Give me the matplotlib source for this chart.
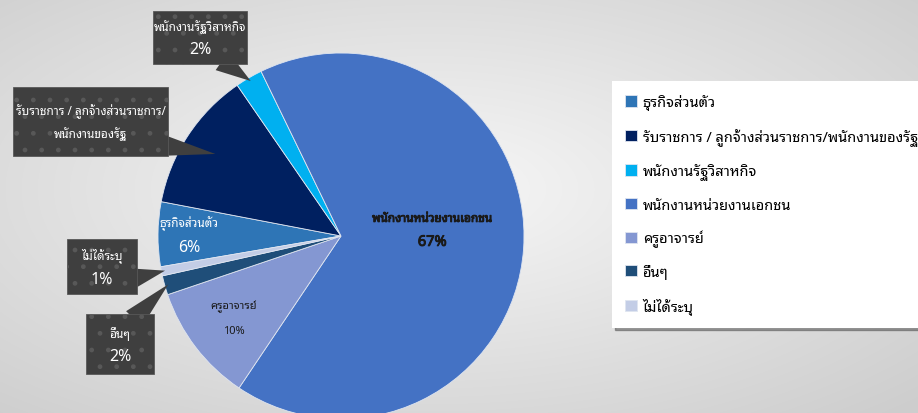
import numpy as np
import matplotlib
matplotlib.use("Agg")
import matplotlib.pyplot as plt
import matplotlib.patheffects as pe
from matplotlib.colors import LinearSegmentedColormap
from matplotlib.patches import Rectangle

plt.rcParams["font.family"] = ["Noto Sans Thai Looped", "DejaVu Sans"]

# data (share of respondents, %), in series order
categories = [
    "ธุรกิจส่วนตัว",
    "รับราชการ / ลูกจ้างส่วนราชการ/พนักงานของรัฐ",
    "พนักงานรัฐวิสาหกิจ",
    "พนักงานหน่วยงานเอกชน",
    "ครูอาจารย์",
    "อื่นๆ",
    "ไม่ได้ระบุ",
]
values = [5.7, 12.4, 2.4, 66.6, 10.4, 1.7, 0.8]
colors = ["#2E75B6", "#002060", "#00B0F0", "#4472C4", "#8497D2", "#1F4E79", "#C3CDE6"]

W, H = 918, 414
fx = lambda x: x / W
fy = lambda y: 1 - y / H

fig = plt.figure(figsize=(W / 100, H / 100), dpi=100)

# soft radial background
bg = fig.add_axes([0, 0, 1, 1], zorder=-1)
yy, xx = np.mgrid[0:H, 0:W]
dist = np.sqrt(((xx - 430) / W) ** 2 + ((yy - 190) / H) ** 2)
bg.imshow(dist, cmap=LinearSegmentedColormap.from_list("bg", ["#f7f7f7", "#cdcdcd"]),
          aspect="auto", extent=[0, 1, 0, 1], vmin=0, vmax=0.75)
bg.axis("off")

# pie: centre (341, 237) px, radius 183 px
cx, cy, r = 341, 237, 183
ax = fig.add_axes([fx(cx - r), fy(cy + r), 2 * r / W, 2 * r / H])
wedges, _ = ax.pie(values, colors=colors, startangle=90 - 260.3, counterclock=False,
                   wedgeprops=dict(linewidth=0.6, edgecolor="#dfe5f0"))
ax.set_xlim(-1, 1)
ax.set_ylim(-1, 1)
ax.axis("off")


def mid_point(w, k):
    a = np.deg2rad((w.theta1 + w.theta2) / 2)
    return k * np.cos(a), k * np.sin(a)


def pct(v):
    return f"{v:.0f}%"


# labels inside the slices: (index, radius, extra shift px, colour, name size, pct size, bold)
inside = [(0, 0.83, 0, "white", 8.5, 11.5, False),
          (3, 0.50, 12, "#1a1a1a", 8.5, 10.5, True),
          (4, 0.74, 0, "#1a1a1a", 8, 8, False)]
for i, k, dy, col, s1, s2, bold in inside:
    p = mid_point(wedges[i], k)
    # the Thai font has no bold face, so thicken with a thin stroke
    stroke = [pe.withStroke(linewidth=0.7, foreground=col)] if bold else None
    ax.annotate(categories[i], p, xytext=(0, 12 + dy), textcoords="offset pixels",
                ha="center", va="center", color=col, fontsize=s1, path_effects=stroke)
    ax.annotate(pct(values[i]), p, xytext=(0, -12 + dy), textcoords="offset pixels",
                ha="center", va="center", color=col, fontsize=s2, path_effects=stroke)

# callout boxes: (index, box x0, y0, x1, y1 in px, pointer base x, y, tip radius, lines)
callouts = [
    (2, 153, 12, 247, 65, 222, 62, 0.98, [categories[2], pct(values[2])]),
    (1, 13, 88, 168, 157, 160, 146, 0.82, ["รับราชการ / ลูกจ้างส่วนราชการ/", "พนักงานของรัฐ"]),
    (6, 67, 240, 137, 295, 130, 280, 0.98, [categories[6], pct(values[6])]),
    (5, 86, 315, 154, 375, 134, 320, 0.98, [categories[5], pct(values[5])]),
]
for i, x0, y0, x1, y1, bx, by, k, lines in callouts:
    ax.annotate("", xy=mid_point(wedges[i], k), xytext=(fx(bx), fy(by)),
                textcoords="figure fraction",
                arrowprops=dict(arrowstyle="wedge,tail_width=0.8,shrink_factor=0.5",
                                mutation_scale=20, fc="#3f3f3f", ec="none",
                                shrinkA=0, shrinkB=0))
    fig.add_artist(Rectangle((fx(x0), fy(y1)), (x1 - x0) / W, (y1 - y0) / H,
                             transform=fig.transFigure, fc="#3f3f3f", ec="#585858",
                             lw=0.6, hatch=".", zorder=5))
    xc = fx((x0 + x1) / 2)
    yc = (y0 + y1) / 2
    is_pct = lines[1].endswith("%")
    fig.text(xc, fy(yc - 11), lines[0], color="white", fontsize=8.5,
             ha="center", va="center", zorder=6)
    fig.text(xc, fy(yc + 12), lines[1], color="white",
             fontsize=11.5 if is_pct else 8.5, ha="center", va="center", zorder=6)

leg = fig.legend(wedges, categories, loc="upper left",
                 bbox_to_anchor=(fx(612), fy(82)), borderaxespad=0,
                 fontsize=10.5, labelspacing=1.2, handlelength=0.8, handleheight=0.8,
                 handletextpad=0.4, borderpad=0.9, frameon=True, fancybox=False,
                 shadow=True, edgecolor="none", facecolor="white")
leg.get_frame().set_alpha(1)

fig.savefig("out.png", dpi=100)
